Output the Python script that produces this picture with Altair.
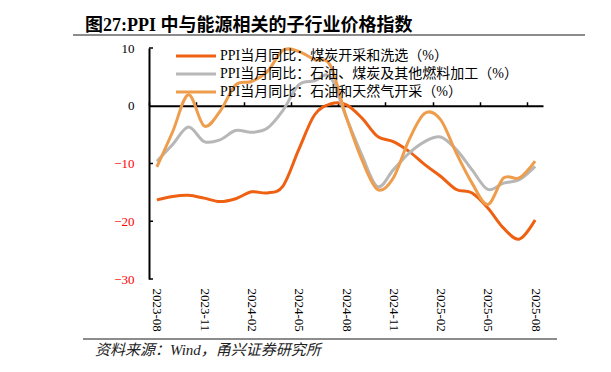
import json
import altair as alt
import pandas as pd

months = ["2023-08", "2023-09", "2023-10", "2023-11", "2023-12", "2024-01", "2024-02",
          "2024-03", "2024-04", "2024-05", "2024-06", "2024-07", "2024-08", "2024-09",
          "2024-10", "2024-11", "2024-12", "2025-01", "2025-02", "2025-03", "2025-04",
          "2025-05", "2025-06", "2025-07", "2025-08"]

coal = [-16.3, -15.7, -15.5, -16.0, -16.6, -16.1, -14.9, -15.1, -13.9, -7.6, -1.6, 0.3, 0.2,
        -2.1, -5.3, -6.2, -7.9, -10.2, -12.2, -14.5, -15.1, -17.7, -21.2, -23.1, -19.8]
refining = [-9.6, -6.7, -3.7, -6.2, -5.9, -4.3, -4.6, -3.9, -0.8, 3.6, 4.3, 5.0, -1.9,
            -8.5, -14.0, -11.1, -8.2, -6.2, -5.4, -7.6, -11.1, -14.5, -13.4, -12.8, -10.5]
oilgas = [-10.6, -4.5, 1.9, -3.5, -1.0, 3.6, 4.2, 5.9, 9.6, 9.4, 8.0, 7.0, -1.8,
          -9.3, -14.5, -12.5, -5.9, -1.3, -2.4, -8.2, -13.4, -17.1, -12.5, -12.5, -9.6]

series_names = ["PPI当月同比：煤炭开采和洗选（%）",
                "PPI当月同比：石油、煤炭及其他燃料加工（%）",
                "PPI当月同比：石油和天然气开采（%）"]
series_colors = ["#EE6012", "#B7B7B7", "#EE9D4C"]

y_ticks = [10, 0, -10, -20, -30]
x_label_idx = [0, 3, 6, 9, 12, 15, 18, 21, 24]
x_tick_pos = [-0.5, 2.5, 5.5, 8.5, 11.5, 14.5, 17.5, 20.5, 23.5]

title_text = "图27:PPI 中与能源相关的子行业价格指数"
source_text = "资料来源：Wind，甬兴证券研究所"

SERIF = "Liberation Serif, Noto Sans CJK SC"

rows = []
for name, vals in zip(series_names, [coal, refining, oilgas]):
    for i, v in enumerate(vals):
        rows.append({"idx": i, "month": months[i], "value": v, "series": name})
df = pd.DataFrame(rows)

W, H = 394, 231

xscale = alt.Scale(domain=[-0.5, 24.5], nice=False, zero=False)
yscale = alt.Scale(domain=[-30, 10], nice=False, zero=False)

label_expr = json.dumps(months) + "[datum.value]"

color = alt.Color(
    "series:N",
    scale=alt.Scale(domain=series_names, range=series_colors),
    sort=series_names,
    legend=alt.Legend(
        orient="none", legendX=40, legendY=1, title=None,
        symbolType="M-5,0H5", symbolSize=64, symbolStrokeWidth=3,
        labelFont=SERIF, labelFontSize=14, labelColor="#000000", labelLimit=0,
        labelOffset=17, rowPadding=4, padding=0,
    ),
)

lines = alt.Chart(df).mark_line(interpolate="cardinal", tension=0, strokeWidth=3).encode(
    x=alt.X("idx:Q", scale=xscale, axis=alt.Axis(
        orient="bottom", values=x_label_idx, labelExpr=label_expr, labelAngle=90,
        labelAlign="left", labelBaseline="middle", labelFont=SERIF, labelFontSize=13,
        labelColor="#000000", labelPadding=9, domain=False, ticks=False, grid=False, title=None)),
    y=alt.Y("value:Q", scale=yscale, axis=alt.Axis(
        values=y_ticks, domain=True, domainColor="#000000", domainWidth=2, ticks=False,
        grid=False, labelFont=SERIF, labelFontSize=13, labelPadding=15,
        labelColor={"expr": "datum.value < 0 ? '#FF0000' : '#000000'"}, title=None)),
    color=color,
    order=alt.Order("idx:Q"),
)

zero_axis = alt.Chart(df).mark_line(opacity=0).encode(
    x=alt.X("idx:Q", scale=xscale, axis=alt.Axis(
        orient="top", offset=-57.75, values=x_tick_pos, labels=False, ticks=True,
        tickSize=4, tickWidth=1.5, tickColor="#000000", domainColor="#000000",
        domainWidth=2, grid=False, title=None)),
    y=alt.Y("value:Q", scale=yscale),
)

ytick_df = pd.DataFrame({"v": [10, -10, -20, -30]})
yticks_in = alt.Chart(ytick_df).mark_rule(color="#000000", strokeWidth=1.5).encode(
    y=alt.Y("v:Q", scale=yscale),
    x=alt.value(0), x2=alt.value(4),
)

one = pd.DataFrame({"a": [0]})
title_line = alt.Chart(one).mark_rule(color="#8C8C8C", strokeWidth=2).encode(
    x=alt.value(-76), x2=alt.value(436), y=alt.value(-13))
source_line = alt.Chart(one).mark_rule(color="#8C8C8C", strokeWidth=2).encode(
    x=alt.value(-66), x2=alt.value(408), y=alt.value(291))
source = alt.Chart(one).mark_text(
    text=source_text, align="left", baseline="middle", font=SERIF, fontSize=15,
    fontStyle="italic", color="#222222").encode(x=alt.value(-54), y=alt.value(302))

chart = alt.layer(zero_axis, lines, yticks_in, title_line, source_line, source).resolve_axis(
    x="independent"
).properties(
    width=W, height=H,
    padding={"left": 141, "top": 40, "right": 60, "bottom": 85},
    autosize=alt.AutoSizeParams(type="none"),
    title=alt.Title(title_text, anchor="start", frame="group", dx=-64, dy=17, offset=16,
                    font=SERIF, fontSize=18, fontWeight="bold", color="#000000"),
    background="#FFFFFF",
).configure_view(stroke=None)

chart.save("out.html", embed_options={"renderer": "svg", "actions": False})
